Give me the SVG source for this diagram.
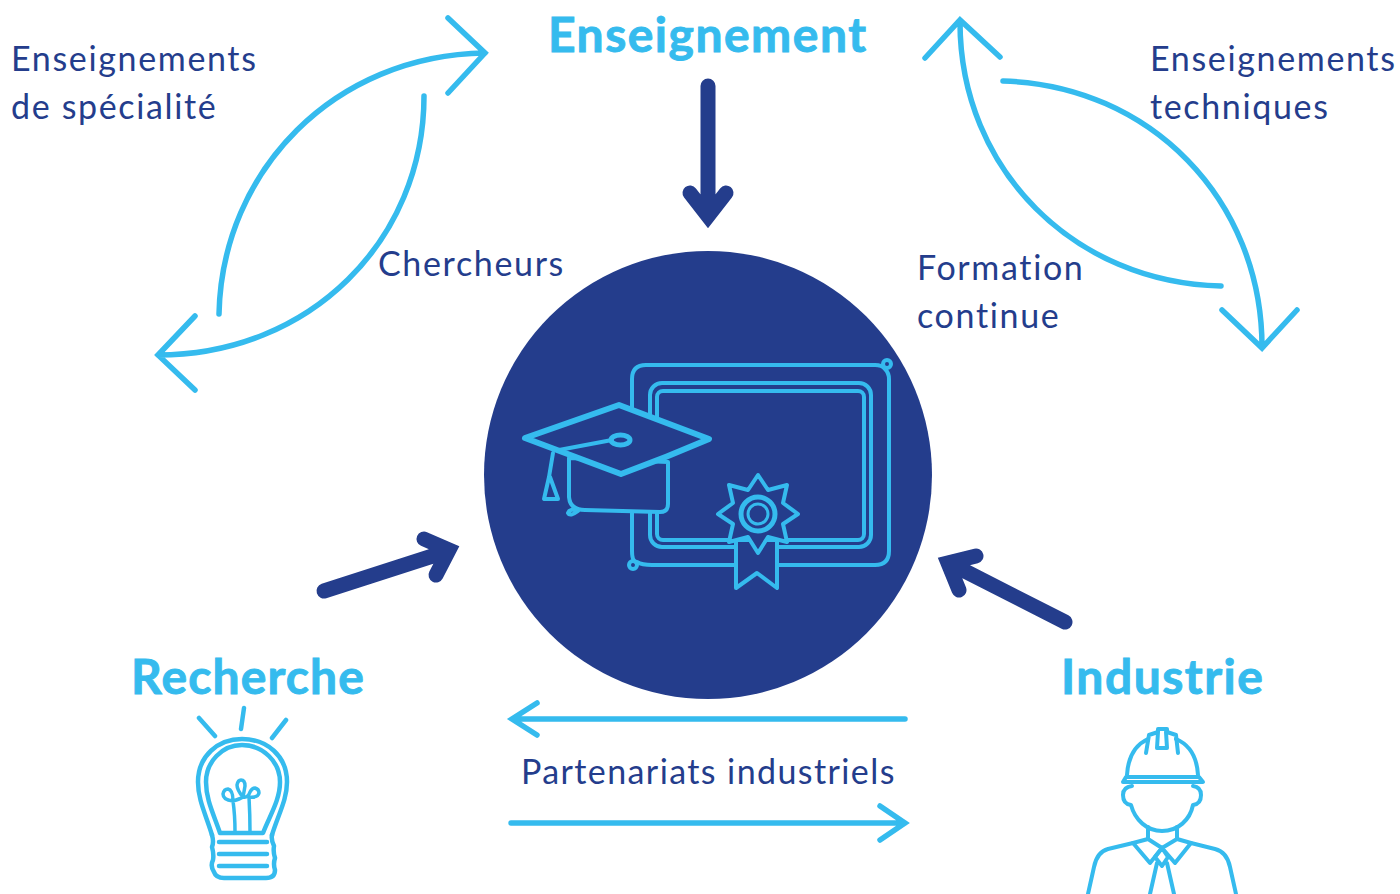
<svg xmlns="http://www.w3.org/2000/svg" width="1400" height="894" viewBox="0 0 1400 894">
<style>
.t{font-family:"Lato","Noto Sans",sans-serif;font-size:34px;fill:#243d8c;letter-spacing:1.65px}
.h{font-family:"Lato","Noto Sans",sans-serif;font-weight:700;font-size:48px;fill:#35bbee;stroke:#35bbee;stroke-width:.9px;letter-spacing:1.5px}
.a{fill:none;stroke:#35bbee;stroke-width:5.500;stroke-linecap:round}
.d{fill:none;stroke:#243d8c;stroke-width:15;stroke-linecap:round}
.i{fill:none;stroke:#35bbee;stroke-width:4;stroke-linecap:round;stroke-linejoin:round}
.b{stroke-width:4.500}
.f{fill:#243d8c}
</style>
<rect width="1400" height="894" fill="#fff"/>
<g id="connectors">
<path class="a" d="M219 314C222 170 335 55 485 53M448 18L485 53L448 93"/>
<path class="a" d="M424 96C424 240 310 355 158 355M195 316L158 355L195 390"/>
<path class="a" d="M960 22C960 170 1075 283 1221 286M925 58L960 20L1000 57"/>
<path class="a" d="M1003 81C1150 85 1262 200 1262 347M1222 310L1262 348L1297 310"/>
<path class="d" d="M708 86V213M690 193L708 216L726 193"/>
<path class="d" d="M324 591L445 552M424 539L449 550L436 575"/>
<path class="d" d="M1065 622L955 566M976 556L948 563L959 590"/>
<path class="a" d="M905 719H512M537 703L512 719L537 735"/>
<path class="a" d="M511 823H905M880 806L905 823L880 840"/>
</g>
<g id="node-center">
<circle cx="708" cy="475" r="224" fill="#243d8c"/>
<path class="i" d="M885 369Q882 365 875 365H646Q632 365 632 379V551Q632 562 637 562Q642 565 652 565H875Q889 565 889 551V379Q889 373 885 369"/>
<circle class="i" cx="887" cy="364" r="4"/><circle class="i" cx="633" cy="565" r="4"/>
<rect class="i" x="650" y="383" width="221" height="164" rx="12"/>
<rect class="i" x="657" y="391" width="207" height="149" rx="6"/>
<path class="i f" d="M569 458V497Q570 510 585 510L660 512Q668 512 668 504V462Z"/>
<path class="i" d="M578 510Q570 508 568 513Q570 517 578 511"/>
<path class="i f" style="stroke-width:6" d="M525 438L619 405L709 439Q665 458 621 474Z"/>
<path class="i" d="M559 450L612 440"/>
<ellipse class="i" cx="620.500" cy="440" rx="9.500" ry="5" style="stroke-width:5"/>
<path class="i" d="M553 453L549 477L544 499H558L550 477"/>
<path class="i f" d="M736 540V588L757 573L777 588V540Z"/>
<path class="i f" d="M758 475L768 490L787 485L783 503L798 514L783 524L787 542L768 537L758 553L748 537L729 542L733 524L718 514L733 503L729 485L748 490Z"/>
<circle class="i" cx="758" cy="514" r="17" style="stroke-width:5"/>
<circle class="i" cx="758" cy="514" r="10" style="stroke-width:3"/>
</g>
<g id="node-enseignement"><text class="h" x="548" y="52">Enseignement</text></g>
<g id="node-recherche">
<text class="h" x="131" y="694" style="letter-spacing:1.15px">Recherche</text>
<path class="i b" d="M199 718L215 736M244 708L241 729M286 720L272 738"/>
<path class="i b" d="M212 835C206 815 198 800 198 782C198 756 218 739 242 739C267 739 287 756 287 782C287 800 278 815 272 835"/>
<path class="i b" d="M220 833C214 815 206 800 206 782C206 762 222 745 242 745C263 745 280 762 280 782C280 800 270 815 263 833Z"/>
<path class="i b" d="M212 835Q214 842 212 847Q214 854 213 860Q210 866 214 872Q216 878 224 878H266Q275 878 275 870Q273 864 275 858Q273 852 274 846Q271 840 272 835"/>
<path class="i b" d="M219 842H267M219 854H267M219 866H267"/>
<path class="i" style="stroke-width:3.500" d="M235 832Q235 815 233 801Q223 800 223 794Q224 789 228 789Q233 790 233 801Q240 799 243 797Q237 790 237 785Q238 780 241 780Q245 780 245 786Q244 792 243 797Q248 798 250 792Q252 788 255 788Q259 789 259 793Q258 798 249 797Q250 815 250 832"/>
</g>
<g id="node-industrie">
<text class="h" x="1061" y="694">Industrie</text>
<path class="i" d="M1127 775C1128 757 1135 745 1148 739M1198 775C1197 757 1190 745 1176 739"/>
<path class="i" d="M1146 753L1149 735L1158 732V729H1167V732L1176 735L1178 753M1158 732L1157 748H1167L1166 732"/>
<path class="i" d="M1123 782L1126 777H1199L1203 782Z"/>
<path class="i" d="M1132 786Q1123 787 1123 795Q1123 804 1131 805C1135 820 1147 831 1162 831C1178 831 1190 820 1193 805Q1201 804 1201 795Q1201 787 1193 786"/>
<path class="i" d="M1148 827V839M1177 827V839"/>
<path class="i" d="M1162 848L1148 839L1133 843L1150 863L1162 848L1177 839L1191 843L1175 863L1162 848"/>
<path class="i" d="M1133 843L1108 849Q1097 852 1094 867L1088 894M1191 843L1215 849Q1227 852 1230 867L1236 894"/>
<path class="i" d="M1162 848L1155 857L1162 866L1168 857ZM1157 863L1150 894M1167 863L1174 894"/>
</g>
<g id="labels">
<text class="t" x="11" y="71">Enseignements</text>
<text class="t" x="11" y="119">de spécialité</text>
<text class="t" x="1150" y="71">Enseignements</text>
<text class="t" x="1150" y="119">techniques</text>
<text class="t" x="378" y="276">Chercheurs</text>
<text class="t" x="917" y="280">Formation</text>
<text class="t" x="917" y="328">continue</text>
<text class="t" x="521" y="784" style="letter-spacing:1.4px">Partenariats industriels</text>
</g>
</svg>
